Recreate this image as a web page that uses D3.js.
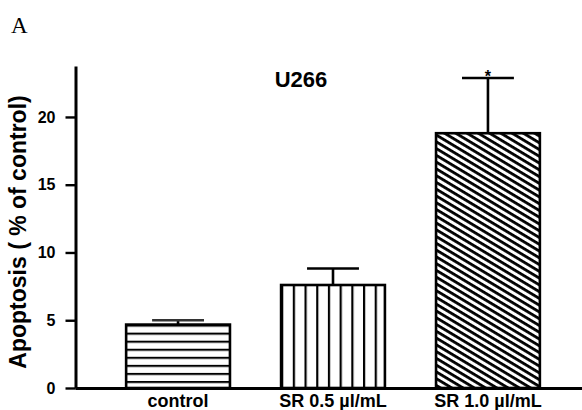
<!DOCTYPE html>
<html><head><meta charset="utf-8">
<script src="https://cdn.jsdelivr.net/npm/d3@7/dist/d3.min.js"></script>
<style>body{margin:0;background:#fff}svg{display:block}</style>
</head><body>
<svg id="chart" width="582" height="410"></svg>
<script>
const categories = ["control", "SR 0.5 \u00b5l/mL", "SR 1.0 \u00b5l/mL"];
const means = [4.68, 7.6, 18.8];
const errors = [0.32, 1.22, 4.07];
const yTicks = [0, 5, 10, 15, 20];
const patterns = ["hlines", "vlines", "diag"];
const significance = ["", "", "*"];

const svg = d3.select("#chart");
const y = d3.scaleLinear().domain([0, 23.76]).range([388, 66]);
const x = d3.scaleBand().domain(categories).range([75, 591]).paddingInner(0.33).paddingOuter(0.33);

const defs = svg.append("defs");
categories.forEach((c, i) => {
  const x0 = x(c), yTop = y(means[i]);
  const p = defs.append("pattern").attr("id", "pat" + i).attr("patternUnits", "userSpaceOnUse");
  if (patterns[i] === "hlines") {
    p.attr("width", 10).attr("height", 8.05).attr("x", 0).attr("y", yTop);
    p.append("rect").attr("width", 10).attr("height", 8.05).attr("fill", "#fff");
    p.append("line").attr("x1", 0).attr("x2", 10).attr("y1", 0).attr("y2", 0).attr("stroke", "#000").attr("stroke-width", 4.2);
  } else if (patterns[i] === "vlines") {
    p.attr("width", 11.7).attr("height", 10).attr("x", x0).attr("y", 0);
    p.append("rect").attr("width", 11.7).attr("height", 10).attr("fill", "#fff");
    p.append("line").attr("x1", 0).attr("x2", 0).attr("y1", 0).attr("y2", 10).attr("stroke", "#000").attr("stroke-width", 4.4);
  } else {
    p.attr("width", 20).attr("height", 5.8).attr("x", x0).attr("y", yTop).attr("patternTransform", "rotate(31)");
    p.append("rect").attr("width", 20).attr("height", 5.8).attr("fill", "#fff");
    p.append("rect").attr("x", 0).attr("y", 0).attr("width", 20).attr("height", 2.8).attr("fill", "#000");
  }
});

// bars
svg.append("g").selectAll("rect").data(categories).join("rect")
  .attr("x", d => x(d)).attr("y", (d, i) => y(means[i]))
  .attr("width", x.bandwidth()).attr("height", (d, i) => y(0) - y(means[i]))
  .attr("fill", (d, i) => "url(#pat" + i + ")")
  .attr("stroke", "#000").attr("stroke-width", 2.6);

// error bars
const eb = svg.append("g").attr("stroke", "#000").attr("stroke-width", 2.6);
categories.forEach((c, i) => {
  const cx = x(c) + x.bandwidth() / 2;
  const hw = x.bandwidth() / 4;
  eb.append("line").attr("x1", cx).attr("x2", cx).attr("y1", y(means[i])).attr("y2", y(means[i] + errors[i]));
  eb.append("line").attr("x1", cx - hw).attr("x2", cx + hw).attr("y1", y(means[i] + errors[i])).attr("y2", y(means[i] + errors[i]))
    .attr("stroke", i === 0 ? "#333" : "#000");
  if (significance[i]) {
    svg.append("text").attr("x", cx).attr("y", y(means[i] + errors[i]) + 4)
      .attr("text-anchor", "middle").attr("font-family", "Liberation Sans, Arial, sans-serif")
      .attr("font-weight", "bold").attr("font-size", 16).text(significance[i]);
  }
});

// y axis
const yAxis = svg.append("g").attr("transform", "translate(75.5,0)")
  .call(d3.axisLeft(y).tickValues(yTicks).tickFormat(d3.format("d")).tickSize(10).tickSizeOuter(0).tickPadding(10));
yAxis.select(".domain").attr("stroke-width", 3);
yAxis.selectAll(".tick line").attr("stroke-width", 2.4);
yAxis.selectAll("text").attr("font-family", "Liberation Sans, Arial, sans-serif").attr("font-weight", "bold").attr("font-size", 16).attr("fill", "#000");

// x axis
const xAxis = svg.append("g").attr("transform", "translate(0,388)")
  .call(d3.axisBottom(x).tickSize(0).tickPadding(6));
xAxis.select(".domain").attr("stroke-width", 3);
xAxis.selectAll("text").attr("font-family", "Liberation Sans, Arial, sans-serif").attr("font-weight", "bold").attr("font-size", 18).attr("fill", "#000");

// y label
svg.append("text").attr("transform", "translate(26,232) rotate(-90)").attr("text-anchor", "middle")
  .attr("font-family", "Liberation Sans, Arial, sans-serif").attr("font-size", 23).attr("font-weight", "bold")
  .text("Apoptosis ( % of control)");

// title
svg.append("text").attr("x", 301).attr("y", 87).attr("text-anchor", "middle")
  .attr("font-family", "Liberation Sans, Arial, sans-serif").attr("font-size", 22).attr("font-weight", "bold")
  .text("U266");

// panel letter
svg.append("text").attr("x", 11).attr("y", 33)
  .attr("font-family", "Liberation Serif, Times New Roman, serif").attr("font-size", 23)
  .text("A");
</script>
</body></html>
